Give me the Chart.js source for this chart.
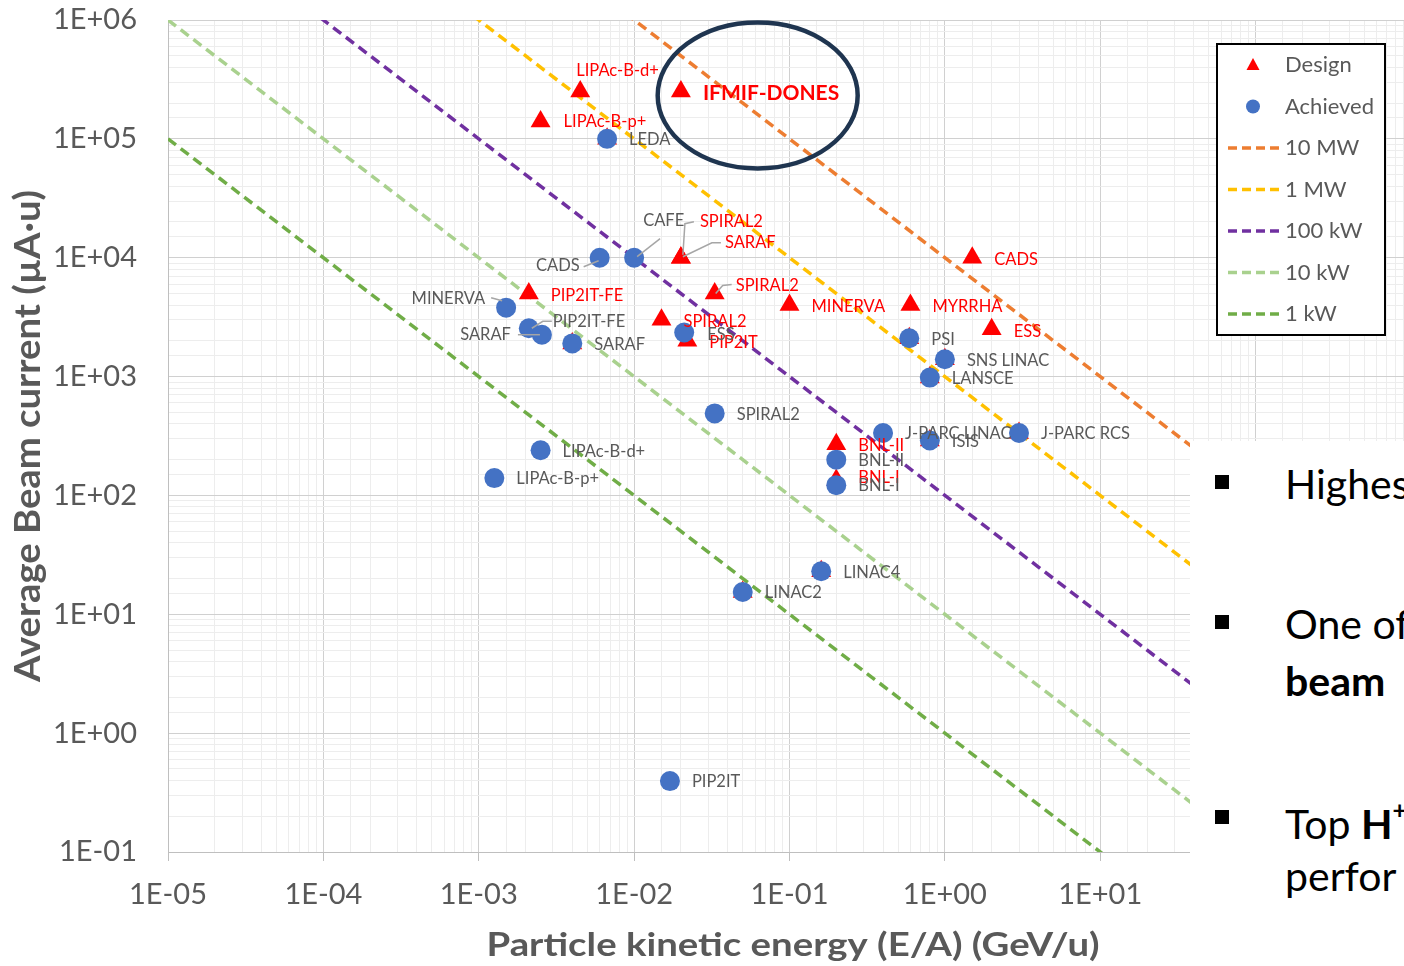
<!DOCTYPE html>
<html>
<head>
<meta charset="utf-8">
<script src="https://cdn.jsdelivr.net/npm/chart.js@4.4.1/dist/chart.umd.min.js"></script>
<style>
  html, body { margin: 0; padding: 0; overflow: hidden; background: #fff; }
  #wrap { position: absolute; left: 0; top: 0; width: 1411px; height: 966px; }
  #slide {
    position: absolute; left: 1190px; top: 441px; width: 300px; height: 540px;
    background: #fff; font-family: Lato, sans-serif; font-size: 41px; color: #000;
  }
  .bullet { position: absolute; left: 25px; width: 14px; height: 14px; background: #000; }
  .line { position: absolute; left: 95px; white-space: nowrap; line-height: 1; }
  .line sup { font-size: 0.6em; vertical-align: 0.8em; }
</style>
</head>
<body>
<div id="wrap"><canvas id="chart" width="1411" height="966"></canvas></div>
<div id="slide">
  <div class="bullet" style="top: 34px"></div>
  <div class="line" style="top: 22px">Highest</div>
  <div class="bullet" style="top: 174px"></div>
  <div class="line" style="top: 162px">One of</div>
  <div class="line" style="top: 219px"><b>beam</b></div>
  <div class="bullet" style="top: 369px"></div>
  <div class="line" style="top: 357px">Top <b>H<sup>+</sup></b></div>
  <div class="line" style="top: 414px">perfor</div>
</div>
<script>
const X_TICK_LABELS = ['1E-05', '1E-04', '1E-03', '1E-02', '1E-01', '1E+00', '1E+01'];
const Y_TICK_LABELS = ['1E-01', '1E+00', '1E+01', '1E+02', '1E+03', '1E+04', '1E+05', '1E+06'];

// Design points (GeV/u, µA·u)
const DESIGN_LABELS = ['LIPAc-B-d+', 'IFMIF-DONES', 'LIPAc-B-p+', '', 'SPIRAL2', 'SARAF', 'SPIRAL2', 'PIP2IT-FE',
  'SPIRAL2', 'PIP2IT', '', 'MINERVA', 'MYRRHA', 'CADS', 'ESS', '', '', '', '', '', 'BNL-II', 'BNL-I', '', ''];
const DESIGN_E = [4.5e-3, 0.02, 2.5e-3, 6.7e-3, 0.02, 0.02, 0.033, 2.1e-3,
  0.015, 0.022, 4e-3, 0.1, 0.6, 1.5, 2.0, 0.59, 1.0, 0.8, 0.8, 3.0, 0.2, 0.2, 0.16, 0.05];
const DESIGN_I = [2.5e5, 2.5e5, 1.4e5, 1e5, 1e4, 1e4, 5e3, 5e3,
  3e3, 2e3, 1.9e3, 4e3, 4e3, 1e4, 2.5e3, 2.1e3, 1.4e3, 980, 290, 335, 270, 135, 23, 15.4];

// Achieved points
const ACHIEVED_LABELS = ['LEDA', 'CADS', 'CAFE', 'MINERVA', 'PIP2IT-FE', 'SARAF', 'SARAF', 'ESS', 'SPIRAL2',
  'PSI', 'SNS LINAC', 'LANSCE', 'J-PARC LINAC', 'ISIS', 'J-PARC RCS', 'BNL-II', 'BNL-I',
  'LIPAc-B-d+', 'LIPAc-B-p+', 'LINAC4', 'LINAC2', 'PIP2IT'];
const ACHIEVED_E = [6.7e-3, 6e-3, 0.01, 1.5e-3, 2.1e-3, 2.55e-3, 4e-3, 0.021, 0.033,
  0.59, 1.0, 0.8, 0.4, 0.8, 3.0, 0.2, 0.2, 2.5e-3, 1.26e-3, 0.16, 0.05, 0.017];
const ACHIEVED_I = [1e5, 1e4, 1e4, 3.8e3, 2.55e3, 2.25e3, 1.9e3, 2.35e3, 490,
  2.1e3, 1.4e3, 980, 335, 290, 335, 200, 122, 240, 140, 23, 15.4, 0.395];

// Constant beam power lines: end points
const LINE_E   = [1e-5, 1e3];
const I_10MW   = [1e9, 10];
const I_1MW    = [1e8, 1];
const I_100KW  = [1e7, 0.1];
const I_10KW   = [1e6, 0.01];
const I_1KW    = [1e5, 0.001];

const COLORS = {
  design:   '#FF0000',
  achieved: '#4472C4',
  mw10:     '#ED7D31',
  mw1:      '#FFC000',
  kw100:    '#7030A0',
  kw10:     '#A9D18E',
  kw1:      '#70AD47',
  text:     '#595959',
};

// label offsets from the marker (px), only where they differ from the default
const DESIGN_LAYOUT = {
  0: { dx: -4, dy: -21 },
  1: { dx: 22, dy: 2, font: 'bold 21px Lato' },
  2: { dx: 23, dy: 0 },
  4: { dx: 19, dy: -36, leader: [[2, -3], [4, -34], [13, -36]] },
  5: { dx: 44, dy: -15, leader: [[2, -1], [31, -15], [40, -15]] },
  6: { dx: 21, dy: -8, leader: [[1, 0], [8, -8], [17, -9]] },
  21: { dx: 22, dy: -2 },
};
const ACHIEVED_LAYOUT = {
  1: { dx: -20, dy: 8, align: 'right', leader: [[-16, 9], [-1, 3]] },
  2: { dx: 9, dy: -37, leader: [[3, -1], [26, -19]] },
  3: { dx: -21, dy: -9, align: 'right', leader: [[-15, -10], [-4, -7]] },
  4: { dx: 24, dy: -7, leader: [[23, -7], [14, -7], [3, 0]] },
  5: { dx: -31, dy: 0, align: 'right', leader: [[-24, 0], [-2, 0]] },
  7: { dx: 23, dy: 2 },
};

const ELLIPSE = { x: 0.0624, y: 2.32e5, rx: 100, ry: 73 };

const toPoints = (xs, ys) => xs.map((x, i) => ({ x, y: ys[i] }));
const isDecade = v => { const e = Math.log10(v); return Math.abs(e - Math.round(e)) < 1e-6; };

function decadeLabel(value, labels, firstExp) {
  if (!isDecade(value)) return '';
  return labels[Math.round(Math.log10(value)) - firstExp] || '';
}

function powerLine(label, values, color) {
  return {
    label,
    data: toPoints(LINE_E, values),
    showLine: true,
    borderColor: color,
    backgroundColor: color,
    borderWidth: 3.5,
    borderDash: [10, 6],
    pointRadius: 0,
    order: 2,
    legendMarker: 'line',
  };
}

const datasets = [
  {
    label: 'Design',
    data: toPoints(DESIGN_E, DESIGN_I),
    pointStyle: 'triangle',
    pointRadius: 11.5,
    pointHoverRadius: 11.5,
    backgroundColor: COLORS.design,
    borderWidth: 0,
    order: 1,
    pointLabels: DESIGN_LABELS,
    labelLayout: DESIGN_LAYOUT,
    labelColor: COLORS.design,
    labelDy: 2,
    legendMarker: 'triangle',
  },
  {
    label: 'Achieved',
    data: toPoints(ACHIEVED_E, ACHIEVED_I),
    pointStyle: 'circle',
    pointRadius: 10,
    pointHoverRadius: 10,
    backgroundColor: COLORS.achieved,
    borderWidth: 0,
    order: 0,
    pointLabels: ACHIEVED_LABELS,
    labelLayout: ACHIEVED_LAYOUT,
    labelColor: COLORS.text,
    labelDy: 1,
    legendMarker: 'circle',
  },
  powerLine('10 MW', I_10MW, COLORS.mw10),
  powerLine('1 MW', I_1MW, COLORS.mw1),
  powerLine('100 kW', I_100KW, COLORS.kw100),
  powerLine('10 kW', I_10KW, COLORS.kw10),
  powerLine('1 kW', I_1KW, COLORS.kw1),
];

const pointLabels = {
  id: 'pointLabels',
  afterDatasetsDraw(chart) {
    const ctx = chart.ctx;
    chart.data.datasets.forEach((ds, di) => {
      if (!ds.pointLabels) return;
      const meta = chart.getDatasetMeta(di);
      meta.data.forEach((pt, i) => {
        const text = ds.pointLabels[i];
        if (!text) return;
        const lay = Object.assign({ dx: 22, dy: ds.labelDy, align: 'left', font: '16.5px Lato' }, ds.labelLayout[i]);
        ctx.save();
        if (lay.leader) {
          ctx.strokeStyle = '#A6A6A6';
          ctx.lineWidth = 1.5;
          ctx.beginPath();
          lay.leader.forEach(([lx, ly], k) => {
            if (k === 0) ctx.moveTo(pt.x + lx, pt.y + ly);
            else ctx.lineTo(pt.x + lx, pt.y + ly);
          });
          ctx.stroke();
        }
        ctx.font = lay.font;
        ctx.fillStyle = ds.labelColor;
        ctx.textAlign = lay.align;
        ctx.textBaseline = 'middle';
        ctx.fillText(text, pt.x + lay.dx, pt.y + lay.dy);
        ctx.restore();
      });
    });
  },
};

function squeezedText(ctx, text, font, x, y, width, rotate) {
  ctx.save();
  ctx.font = font;
  const w = ctx.measureText(text).width;
  ctx.translate(x, y);
  if (rotate) ctx.rotate(-Math.PI / 2);
  ctx.scale(width / w, 1);
  ctx.fillStyle = COLORS.text;
  ctx.textAlign = 'center';
  ctx.textBaseline = 'alphabetic';
  ctx.fillText(text, 0, 0);
  ctx.restore();
}

const overlay = {
  id: 'overlay',
  afterDraw(chart) {
    const ctx = chart.ctx;
    const { x, y } = chart.scales;

    // ellipse around IFMIF-DONES
    ctx.save();
    ctx.strokeStyle = '#1F3550';
    ctx.lineWidth = 4.5;
    ctx.beginPath();
    ctx.ellipse(x.getPixelForValue(ELLIPSE.x), y.getPixelForValue(ELLIPSE.y), ELLIPSE.rx, ELLIPSE.ry, 0, 0, Math.PI * 2);
    ctx.stroke();
    ctx.restore();

    // axis titles
    squeezedText(ctx, 'Particle kinetic energy (E/A) (GeV/u)', 'bold 33px Lato', 793, 956, 613, false);
    squeezedText(ctx, 'Average Beam current (µA·u)', 'bold 37px Lato', 40, 436, 492, true);

    // legend
    const box = { left: 1217, top: 44, width: 168, height: 291 };
    ctx.save();
    ctx.fillStyle = '#fff';
    ctx.fillRect(box.left, box.top, box.width, box.height);
    ctx.strokeStyle = '#000';
    ctx.lineWidth = 2;
    ctx.strokeRect(box.left, box.top, box.width, box.height);
    ctx.font = '22px Lato';
    ctx.textBaseline = 'middle';
    chart.data.datasets.forEach((ds, i) => {
      const rowY = 65 + i * 41.5;
      ctx.fillStyle = ds.backgroundColor;
      ctx.strokeStyle = ds.borderColor;
      if (ds.legendMarker === 'triangle') {
        ctx.beginPath();
        ctx.moveTo(1253, rowY - 7);
        ctx.lineTo(1259.5, rowY + 5);
        ctx.lineTo(1246.5, rowY + 5);
        ctx.closePath();
        ctx.fill();
      } else if (ds.legendMarker === 'circle') {
        ctx.beginPath();
        ctx.arc(1253, rowY, 7, 0, Math.PI * 2);
        ctx.fill();
      } else {
        ctx.lineWidth = 3.5;
        ctx.setLineDash([9, 5]);
        ctx.beginPath();
        ctx.moveTo(1228, rowY);
        ctx.lineTo(1283, rowY);
        ctx.stroke();
        ctx.setLineDash([]);
      }
      ctx.fillStyle = COLORS.text;
      ctx.fillText(ds.label, 1285, rowY);
    });
    ctx.restore();
  },
};

const gridOptions = {
  color: c => isDecade(c.tick.value) ? '#D0D0D0' : '#EDEDED',
  lineWidth: 1,
};

new Chart(document.getElementById('chart'), {
  type: 'scatter',
  data: { datasets },
  options: {
    responsive: false,
    devicePixelRatio: 1,
    animation: false,
    events: [],
    layout: { autoPadding: false, padding: { top: 20, right: 0, bottom: 0, left: 0 } },
    plugins: { legend: { display: false }, tooltip: { enabled: false } },
    scales: {
      x: {
        type: 'logarithmic',
        min: 1e-5,
        max: 1e3,
        afterFit: s => { s.height = 114; s.paddingLeft = 0; s.paddingRight = 0; },
        border: { color: '#BFBFBF' },
        grid: Object.assign({}, gridOptions, {
          drawTicks: true,
          tickLength: 9,
          tickColor: c => isDecade(c.tick.value) ? '#BFBFBF' : 'rgba(0,0,0,0)',
        }),
        ticks: {
          autoSkip: false,
          maxRotation: 0,
          padding: 16,
          color: COLORS.text,
          font: { family: 'Lato', size: 29 },
          callback: v => decadeLabel(v, X_TICK_LABELS, -5),
        },
      },
      y: {
        type: 'logarithmic',
        min: 0.1,
        max: 1e6,
        afterFit: s => { s.width = 168; s.paddingTop = 0; s.paddingBottom = 0; },
        border: { color: '#BFBFBF' },
        grid: Object.assign({}, gridOptions, { drawTicks: false }),
        ticks: {
          autoSkip: false,
          padding: 31,
          color: COLORS.text,
          font: { family: 'Lato', size: 29 },
          callback: v => decadeLabel(v, Y_TICK_LABELS, -1),
        },
      },
    },
  },
  plugins: [pointLabels, overlay],
});
</script>
</body>
</html>
